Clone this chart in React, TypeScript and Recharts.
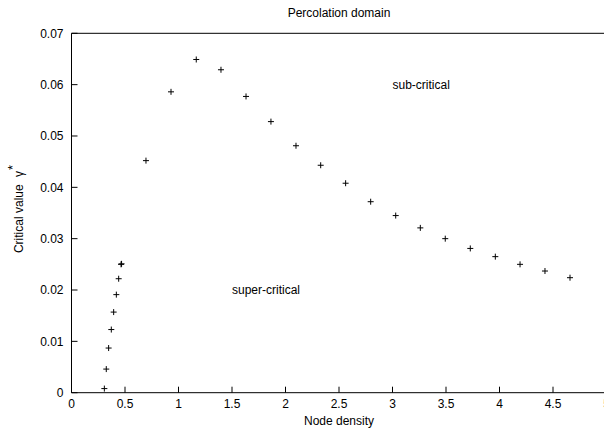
import React from 'react';
import {
  ScatterChart,
  Scatter,
  XAxis,
  YAxis,
  ReferenceDot,
  Label,
} from 'recharts';

const densities = [
  0.307, 0.325, 0.347, 0.372, 0.394, 0.419, 0.441, 0.463, 0.468,
  0.696, 0.93, 1.166, 1.397, 1.631, 1.864, 2.098, 2.329, 2.562, 2.796,
  3.03, 3.26, 3.493, 3.727, 3.961, 4.192, 4.425, 4.659,
];
const criticalValues = [
  0.0008, 0.0046, 0.0087, 0.0123, 0.0157, 0.0191, 0.0222, 0.025, 0.0251,
  0.0452, 0.0586, 0.0649, 0.0629, 0.0577, 0.0528, 0.0481, 0.0443, 0.0408, 0.0372,
  0.0345, 0.0321, 0.03, 0.0281, 0.0265, 0.025, 0.0237, 0.0224,
];
const xTicks = [0, 0.5, 1, 1.5, 2, 2.5, 3, 3.5, 4, 4.5, 5];
const yTicks = [0, 0.01, 0.02, 0.03, 0.04, 0.05, 0.06, 0.07];
const regionLabels = [
  { x: 3, y: 0.06, text: 'sub-critical' },
  { x: 1.5, y: 0.02, text: 'super-critical' },
];

const data = densities.map((d, i) => ({ x: d, y: criticalValues[i] }));

const FONT = '"Liberation Sans", Arial, Helvetica, sans-serif';
const tickStyle = { fill: '#000', fontSize: 12, fontFamily: FONT };
const lineStyle = { stroke: '#000', strokeWidth: 1 };

const Plus = (props: any) => {
  const { cx, cy } = props;
  if (cx == null || cy == null) return null;
  return (
    <path
      d={`M${cx - 3},${cy}h6M${cx},${cy - 3}v6`}
      stroke="#000"
      strokeWidth={1}
      fill="none"
    />
  );
};

const YLabel = (props: any) => {
  const vb = props.viewBox || {};
  const x = (vb.x ?? 70.5) + (vb.width ?? 1) - 48.5;
  const y = (vb.y ?? 33) + (vb.height ?? 360) / 2 - 4;
  return (
    <text
      x={x}
      y={y}
      transform={`rotate(-90, ${x}, ${y})`}
      textAnchor="middle"
      fontSize={12}
      fontFamily={FONT}
      fill="#000"
    >
      Critical value{'  '}
      <tspan dx={4}>γ</tspan>
      <tspan dy={-6} dx={1} fontSize={13}>*</tspan>
    </text>
  );
};

export default function App() {
  return (
    <div
      style={{
        position: 'absolute',
        left: 0,
        top: 0,
        width: 604,
        height: 430,
        overflow: 'hidden',
        background: '#fff',
      }}
    >
      <ScatterChart
        width={620}
        height={430}
        margin={{ top: 32.3, right: 12.5, bottom: 36.3, left: 70.5 }}
      >
        <XAxis
          xAxisId={0}
          type="number"
          dataKey="x"
          domain={[0, 5]}
          ticks={xTicks}
          height={1}
          tickSize={-6}
          tickMargin={13}
          tick={tickStyle}
          axisLine={lineStyle}
          tickLine={lineStyle}
          allowDataOverflow
        >
          <Label
            value="Node density"
            position="bottom"
            offset={23}
            style={{ fill: '#000', fontSize: 12, fontFamily: FONT }}
          />
        </XAxis>
        <XAxis
          xAxisId="top"
          orientation="top"
          type="number"
          domain={[0, 5]}
          ticks={xTicks}
          height={1}
          tickSize={-6}
          tick={false}
          axisLine={lineStyle}
          tickLine={lineStyle}
          allowDataOverflow
        >
          <Label
            value="Percolation domain"
            position="top"
            offset={15.3}
            style={{ fill: '#000', fontSize: 12, fontFamily: FONT }}
          />
        </XAxis>
        <YAxis
          yAxisId={0}
          type="number"
          dataKey="y"
          domain={[0, 0.07]}
          ticks={yTicks}
          width={1}
          tickSize={-6}
          tickMargin={14}
          tick={tickStyle}
          axisLine={lineStyle}
          tickLine={lineStyle}
          allowDataOverflow
        >
          <Label content={<YLabel />} />
        </YAxis>
        <YAxis
          yAxisId="right"
          orientation="right"
          type="number"
          domain={[0, 0.07]}
          ticks={yTicks}
          width={1}
          tickSize={-6}
          tick={false}
          axisLine={lineStyle}
          tickLine={lineStyle}
          allowDataOverflow
        />
        <Scatter
          data={data}
          xAxisId={0}
          yAxisId={0}
          shape={<Plus />}
          isAnimationActive={false}
        />
        {regionLabels.map((l) => (
          <ReferenceDot
            key={l.text}
            x={l.x}
            y={l.y}
            xAxisId={0}
            yAxisId={0}
            r={0}
            fill="none"
            stroke="none"
            label={{
              value: l.text,
              position: 'right',
              offset: 0,
              style: { fill: '#000', fontSize: 12, fontFamily: FONT },
            }}
          />
        ))}
      </ScatterChart>
    </div>
  );
}
